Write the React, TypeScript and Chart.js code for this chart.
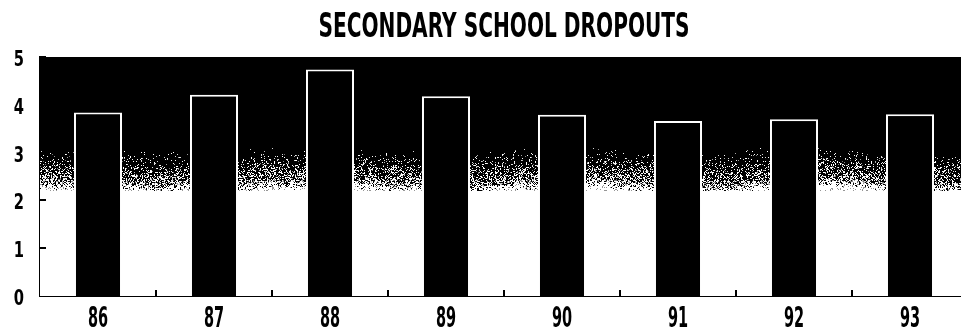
import React, { useEffect, useRef } from "react";
import { Chart, registerables } from "chart.js";

Chart.register(...registerables);

// School years (19xx) and dropout rates, in percent
const years: string[] = ["86", "87", "88", "89", "90", "91", "92", "93"];
const dropouts: number[] = [3.84, 4.21, 4.74, 4.18, 3.79, 3.66, 3.7, 3.8];
const yTicks: number[] = [0, 1, 2, 3, 4, 5];
const title = "SECONDARY SCHOOL DROPOUTS";

const FONT = "'DejaVu Sans', 'Liberation Sans', sans-serif";

// Bold text squeezed horizontally to get a condensed look
function condensedText(
  ctx: CanvasRenderingContext2D,
  text: string,
  x: number,
  y: number,
  size: number,
  squeeze: number,
  align: CanvasTextAlign
) {
  ctx.save();
  ctx.font = `bold ${size}px ${FONT}`;
  ctx.fillStyle = "#000";
  ctx.textAlign = align;
  ctx.textBaseline = "alphabetic";
  ctx.translate(x, y);
  ctx.scale(squeeze, 1);
  ctx.fillText(text, 0, 0);
  ctx.restore();
}

// Cheap integer hash used to speckle the dark-to-light band behind the bars
function hash(x: number, y: number, s: number): number {
  let h = (x * 374761393 + y * 668265263 + s * 2147483647) | 0;
  h = Math.imul(h ^ (h >>> 13), 1274126177);
  h ^= h >>> 16;
  return (h >>> 0) / 4294967296;
}

// Black sky above, white floor below, with a grainy dithered band between
const shadedBackground = {
  id: "shadedBackground",
  beforeDatasetsDraw(chart: any) {
    const { ctx, chartArea } = chart;
    const yScale = chart.scales.y;
    const left = Math.round(chartArea.left);
    const right = Math.round(chartArea.right);
    const top = Math.round(chartArea.top);
    const bottom = Math.round(chartArea.bottom);
    const bandTop = Math.round(yScale.getPixelForValue(3.1));
    const bandBottom = Math.round(yScale.getPixelForValue(2.2));
    ctx.save();
    ctx.fillStyle = "#fff";
    ctx.fillRect(left, bandBottom, right - left, bottom - bandBottom);
    ctx.fillStyle = "#000";
    ctx.fillRect(left, top, right - left, bandTop - top);
    const w = right - left;
    const h = bandBottom - bandTop;
    if (w > 0 && h > 0) {
      const img = ctx.createImageData(w, h);
      for (let i = 0; i < w; i++) {
        // gentle waviness of the band edge along x
        const xx = left + i;
        const shift = Math.sin(xx / 41) * 0.05 + Math.sin(xx / 13) * 0.025;
        for (let j = 0; j < h; j++) {
          const yy = bandTop + j;
          const t = Math.min(1, Math.max(0, (j + 0.5) / h + shift));
          // share of light grains: sparse at first, then a quick change to white
          let p: number;
          if (t < 0.75) p = Math.pow(t / 0.75, 1.5) * 0.5;
          else p = 0.5 + ((t - 0.75) / 0.25) * 0.5;
          const r = hash(xx, yy, 1);
          let v = 0;
          if (r < p) {
            const tone = hash(xx, yy, 3);
            if (t > 0.85) v = tone < 0.12 ? 150 : 255;
            else v = tone < 0.5 ? 110 + Math.floor(tone * 240) : 255;
          }
          const k = (j * w + i) * 4;
          img.data[k] = v;
          img.data[k + 1] = v;
          img.data[k + 2] = v;
          img.data[k + 3] = 255;
        }
      }
      ctx.putImageData(img, left, bandTop);
    }
    ctx.restore();
  },
};

// Short inward tick marks, tick labels and the heading
const axisDecor = {
  id: "axisDecor",
  afterDatasetsDraw(chart: any) {
    const { ctx, chartArea } = chart;
    const xs = chart.scales.x;
    const ys = chart.scales.y;
    ctx.save();
    ctx.fillStyle = "#000";
    for (let i = 1; i < years.length; i++) {
      const x = (xs.getPixelForValue(i - 1) + xs.getPixelForValue(i)) / 2;
      ctx.fillRect(Math.round(x) - 1, chartArea.bottom - 6, 2, 6);
    }
    yTicks.forEach((v) => {
      if (v === 0) return;
      const y = ys.getPixelForValue(v);
      ctx.fillRect(chartArea.left, Math.round(y) - 1, 6, 2);
    });
    ctx.restore();

    years.forEach((label, i) => {
      condensedText(ctx, label, xs.getPixelForValue(i), chartArea.bottom + 31, 29, 0.5, "center");
    });
    yTicks.forEach((v) => {
      condensedText(ctx, String(v), chartArea.left - 16, ys.getPixelForValue(v) + 9, 21, 0.7, "right");
    });
    condensedText(ctx, title, (chartArea.left + chartArea.right) / 2, 37, 33, 0.61, "center");
  },
};

export default function App() {
  const ref = useRef<HTMLCanvasElement | null>(null);

  useEffect(() => {
    document.body.style.margin = "0";
    document.body.style.overflow = "hidden";
    const canvas = ref.current;
    if (!canvas) return;
    const chart = new Chart(canvas, {
      type: "bar",
      data: {
        labels: years,
        datasets: [
          {
            data: dropouts,
            backgroundColor: "#000",
            borderColor: "#fff",
            borderWidth: 2,
            borderSkipped: "start",
            categoryPercentage: 1,
            barPercentage: 0.414,
          },
        ],
      },
      options: {
        animation: false,
        responsive: false,
        devicePixelRatio: 1,
        layout: { padding: { left: 0, right: 40, top: 57, bottom: 0 } },
        plugins: {
          legend: { display: false },
          tooltip: { enabled: false },
          title: { display: false, text: title },
        },
        scales: {
          x: {
            grid: { display: false, drawTicks: false },
            border: { display: true, color: "#000", width: 2 },
            ticks: { display: false },
            afterFit(scale: any) {
              scale.height = 33;
            },
          },
          y: {
            min: 0,
            max: 5,
            grid: { display: false, drawTicks: false },
            border: { display: true, color: "#000", width: 2 },
            ticks: { display: false, stepSize: 1 },
            afterFit(scale: any) {
              scale.width = 40;
            },
          },
        },
      },
      plugins: [shadedBackground, axisDecor],
    });
    return () => chart.destroy();
  }, []);

  return (
    <div
      style={{
        position: "fixed",
        left: 0,
        top: 0,
        width: 961,
        height: 329,
        overflow: "hidden",
        background: "#fff",
      }}
    >
      <canvas ref={ref} width={1008} height={329} style={{ width: 1008, height: 329, display: "block" }} />
    </div>
  );
}
